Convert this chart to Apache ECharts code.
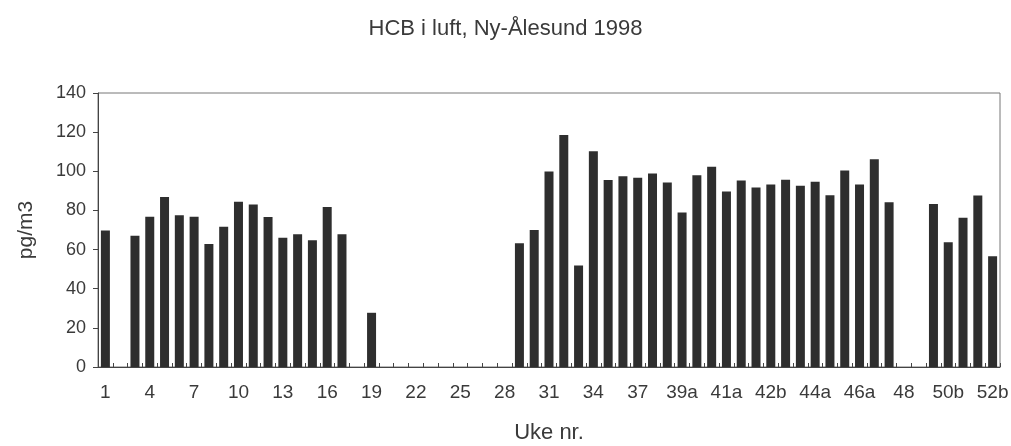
<!DOCTYPE html>
<html>
<head>
<meta charset="utf-8">
<script src="https://cdn.jsdelivr.net/npm/echarts@6/dist/echarts.min.js"></script>
<style>
html, body { margin: 0; padding: 0; background: #fff; }
#chart { width: 1011px; height: 446px; }
</style>
</head>
<body>
<div id="chart"></div>
<script>
// Sampling periods (weeks; some weeks split into a/b samples)
const weeks = [
  '1','2','3','4','5','6','7','8','9','10',
  '11','12','13','14','15','16','17','18','19','20',
  '21','22','23','24','25','26','27','28','29','30',
  '31','32','33','34','35','36','37','38a','38b','39a',
  '39b','40','41a','41b','42a','42b','43a','43b','44a','44b',
  '45','46a','46b','47','48','49','50a','50b','51','52a',
  '52b'
];
// HCB concentration, pg/m3 (null = no sample)
const hcb = [
  69.7, null, 67.1, 76.8, 86.8, 77.6, 76.8, 62.9, 71.7, 84.4,
  83.0, 76.7, 66.1, 67.8, 64.8, 81.7, 67.8, null, 27.7, null,
  null, null, null, null, null, null, null, null, 63.2, 70.0,
  99.9, 118.5, 51.9, 110.3, 95.5, 97.5, 96.7, 98.9, 94.3, 78.9,
  98.0, 102.3, 89.7, 95.3, 91.7, 93.3, 95.7, 92.6, 94.6, 87.8,
  100.4, 93.3, 106.1, 84.2, null, null, 83.3, 63.7, 76.3, 87.6,
  56.6
];
// Value axis range and step
const yMin = 0, yMax = 140, yStep = 20;

const chart = echarts.init(document.getElementById('chart'));
const textColor = '#3a3a3a';
const font = 'Liberation Sans, Arial, Helvetica, sans-serif';

chart.setOption({
  animation: false,
  backgroundColor: '#ffffff',
  title: {
    text: 'HCB i luft, Ny-Ålesund 1998',
    left: 'center',
    top: 13,
    textStyle: { color: textColor, fontSize: 22, fontWeight: 'normal', fontFamily: font }
  },
  grid: {
    left: 98, right: 11, top: 93, bottom: 79,
    outerBoundsMode: 'none',
    containLabel: false,
    show: true,
    borderColor: '#777',
    borderWidth: 1
  },
  xAxis: {
    type: 'category',
    data: weeks,
    name: 'Uke nr.',
    nameLocation: 'middle',
    nameGap: 55,
    nameTextStyle: { color: textColor, fontSize: 22, fontFamily: font },
    axisLine: { lineStyle: { color: '#444', width: 1 } },
    axisTick: { show: true, inside: true, length: 4, interval: 0, lineStyle: { color: '#444' } },
    axisLabel: { interval: 2, color: textColor, fontSize: 19, fontFamily: font, margin: 16 }
  },
  yAxis: {
    type: 'value',
    min: yMin,
    max: yMax,
    interval: yStep,
    name: 'pg/m3',
    nameLocation: 'middle',
    nameGap: 61,
    nameTextStyle: { color: textColor, fontSize: 21, fontFamily: font },
    axisLine: { show: true, lineStyle: { color: '#444', width: 1 } },
    axisTick: { show: true, length: 5, lineStyle: { color: '#444' } },
    splitLine: { show: false },
    axisLabel: { color: textColor, fontSize: 18, fontFamily: font, margin: 12 }
  },
  series: [{
    type: 'bar',
    data: hcb,
    barWidth: 9,
    itemStyle: { color: '#2e2e2e' }
  }]
});
</script>
</body>
</html>
